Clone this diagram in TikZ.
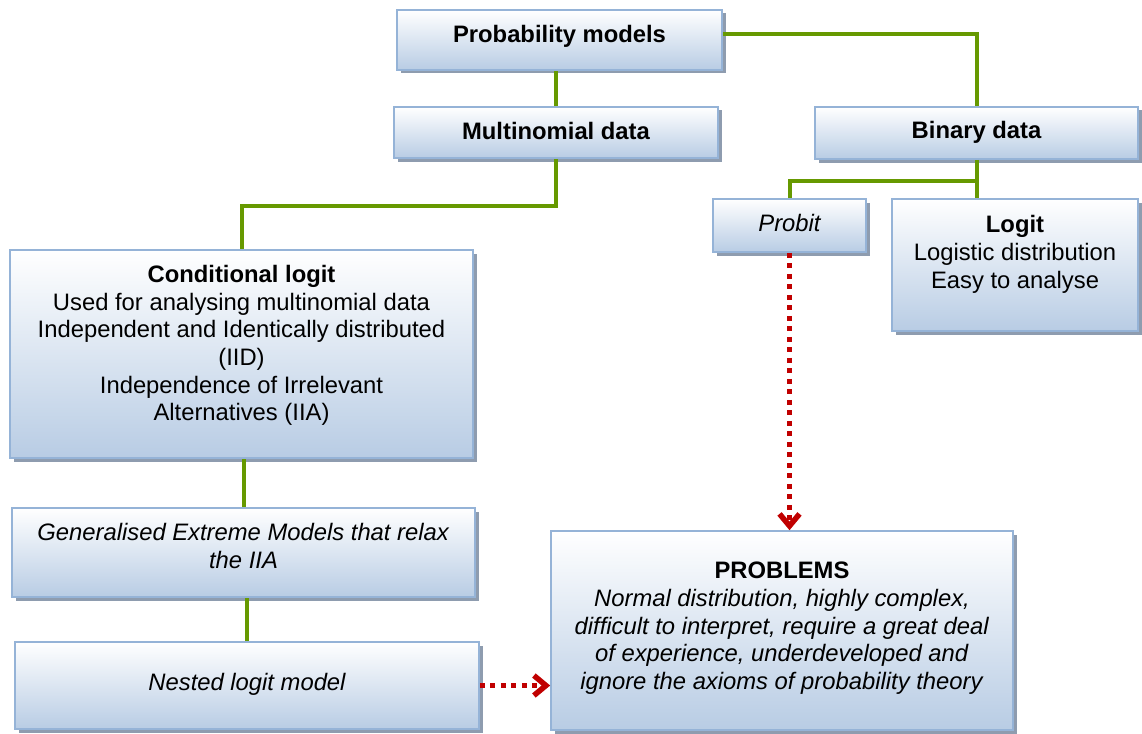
\documentclass[tikz,border=0pt]{standalone}
\usepackage{fontspec}
\setmainfont{Liberation Sans}
\usetikzlibrary{shadows,arrows.meta,calc}
\definecolor{boxborder}{HTML}{95B3D7}
\definecolor{boxbottom}{HTML}{B8CCE4}
\definecolor{boxshadow}{HTML}{8E9CAF}
\definecolor{linkgreen}{HTML}{669900}
\definecolor{probred}{HTML}{C00000}
\tikzset{
  panel/.style={draw=boxborder, line width=1.6pt, top color=white, bottom color=boxbottom, inner sep=0pt,
    drop shadow={shadow xshift=3.5pt, shadow yshift=-3.5pt, fill=boxshadow, opacity=1}},
  txt/.style={align=center, inner sep=0pt, font=\fontsize{23.8pt}{27.6pt}\selectfont},
  link/.style={draw=linkgreen, line width=4pt},
  flaw/.style={draw=probred, line width=4.5pt, dash pattern=on 5pt off 5.5pt,
    -{Straight Barb[length=12pt,width=20pt,line width=5.5pt]}},
}
\begin{document}
\begin{tikzpicture}[x=1pt,y=-1pt]
\useasboundingbox (0,0) rectangle (1142,733);
% boxes
\node[panel, minimum width=325pt, minimum height=60pt] (prob) at (559.5,40) {};
\node[panel, minimum width=324pt, minimum height=51pt] (multi) at (556,132.5) {};
\node[panel, minimum width=323pt, minimum height=52pt] (binary) at (976.5,133) {};
\node[panel, minimum width=153pt, minimum height=53pt] (probit) at (789.5,225.5) {};
\node[panel, minimum width=246pt, minimum height=132pt] (logit) at (1015,265) {};
\node[panel, minimum width=463pt, minimum height=208pt] (cond) at (241.5,354) {};
\node[panel, minimum width=463pt, minimum height=89pt] (gen) at (243.5,552.5) {};
\node[panel, minimum width=464pt, minimum height=87pt] (nested) at (247,685.5) {};
\node[panel, minimum width=462pt, minimum height=199pt] (problems) at (782,630.5) {};
% texts
\node[txt] (probtxt) at (559.5,36.8) {\bfseries Probability models};
\node[txt] (multitxt) at (556,130.6) {\bfseries Multinomial data};
\node[txt] (binarytxt) at (976.5,132.1) {\bfseries Binary data};
\node[txt] (probittxt) at (789.5,223) {\itshape Probit};
\node[txt] (logittxt) at (1015,254.3) {{\bfseries Logit}\\Logistic distribution\\Easy to analyse};
\node[txt] (condtxt) at (241.5,345.5) {{\bfseries Conditional logit}\\Used for analysing multinomial data\\Independent and Identically distributed\\(IID)\\Independence of Irrelevant\\Alternatives (IIA)};
\node[txt] (gentxt) at (243.5,545.8) {\textit{Generalised Extreme Models that relax}\\\textit{the IIA}};
\node[txt] (nestedtxt) at (247,684.5) {\itshape Nested logit model};
\node[txt] (problemstxt) at (782,628.3) {{\bfseries PROBLEMS}\\\textit{Normal distribution, highly complex,}\\\textit{difficult to interpret, require a great deal}\\\textit{of experience, underdeveloped and}\\\textit{ignore the axioms of probability theory}};
% green connectors
\draw[link] ($(prob.east)+(0,-6)$) -| (binary.north);
\draw[link] (multi.north) -- (multi.north |- prob.south);
\draw[link] (multi.south) -- ++(0,47) -| (cond.north);
\draw[link] (binary.south) -- (binary.south |- logit.north);
\draw[link] ($(binary.south)+(0,21)$) -| (probit.north);
\draw[link] (gen.north) -- (gen.north |- cond.south);
\draw[link] (nested.north) -- (nested.north |- gen.south);
% red dotted arrows
\draw[flaw] (probit.south) -- (probit.south |- problems.north);
\draw[flaw] (nested.east) -- (nested.east -| problems.west);
\end{tikzpicture}
\end{document}
